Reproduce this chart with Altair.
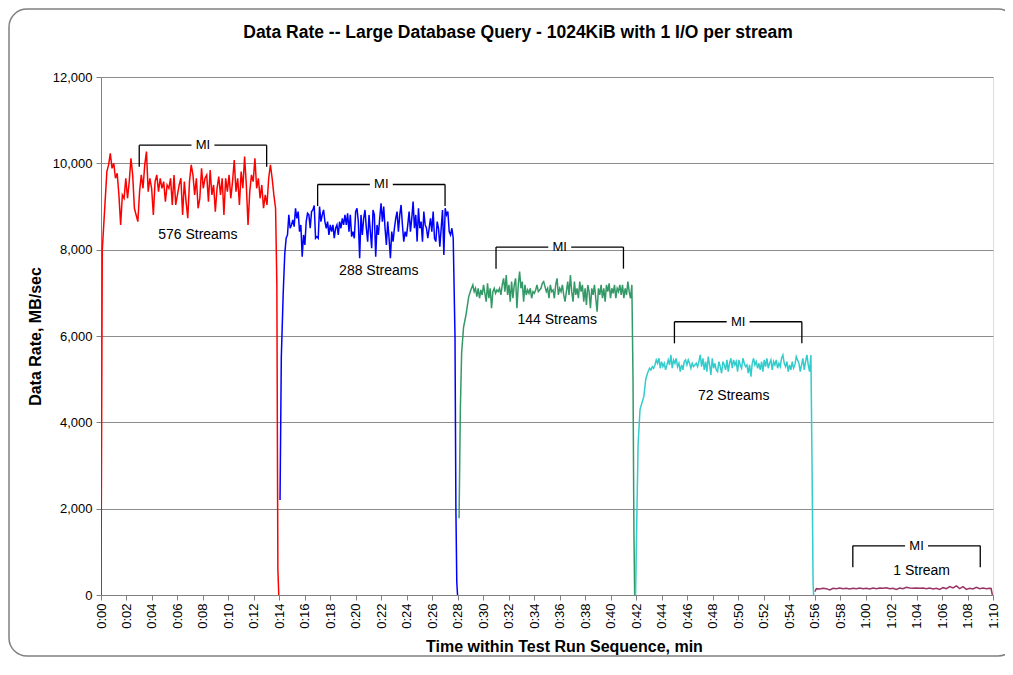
import altair as alt
import pandas as pd

FONT = "Liberation Sans"

chart_title = "Data Rate -- Large Database Query - 1024KiB with 1 I/O per stream"
series_names = ["576 Streams", "288 Streams", "144 Streams", "72 Streams", "1 Stream"]
series_colors = ["#FF0000", "#0000FF", "#339966", "#33CCCC", "#993366"]

# ---- 576 streams (red) ----
red_in_t = [0.0, 0.1, 0.2]
red_in_v = [0, 8000, 8500]
red_span = [0.46, 13.70]
red_vals = [9808, 9963, 10233, 9885, 10001, 9654, 9770, 9268, 8573, 9268, 9190, 9654, 9190, 9576,
            10117, 9731, 8959, 8804, 8650, 9345, 9731, 9422, 9963, 10272, 9345, 9654, 9422, 8804,
            9576, 9731, 9345, 9654, 9422, 9576, 9113, 9499, 9422, 9654, 9036, 9731, 9036, 9268,
            9499, 9654, 8804, 9576, 9113, 8727, 9576, 9963, 9731, 9268, 9654, 8959, 9190, 9885,
            9422, 9654, 9731, 9113, 9847, 9268, 9499, 8881, 9422, 9692, 9268, 9654, 8804, 9654,
            9345, 9731, 9190, 9576, 10078, 9345, 9654, 9036, 9808, 9422, 10156, 9499, 8573, 9345,
            9731, 9576, 10117, 9422, 9654, 9190, 9499, 8959, 9268, 9036, 9654, 9963, 9654, 9268, 8959]
red_out_t = [13.8, 13.88, 13.95]
red_out_v = [7200, 600, 0]

# ---- 288 streams (blue) ----
blue_in_t = [14.05, 14.15, 14.3, 14.42]
blue_in_v = [2200, 5500, 7000, 7900]
blue_span = [14.53, 27.64]
blue_vals = [8264, 8341, 8805, 8496, 8573, 8689, 8534, 8959, 8727, 8882, 8418, 8573, 7839, 8341,
             8110, 8650, 8843, 8805, 8496, 8882, 8920, 9021, 8264, 8303, 8264, 8998, 8650, 8805,
             8920, 8650, 8496, 8650, 8341, 8573, 8418, 8573, 8264, 8496, 8573, 8341, 8650, 8496,
             8727, 8573, 8805, 8573, 8843, 8418, 8805, 8303, 8418, 8264, 8882, 8959, 8650, 7801,
             8805, 8341, 8727, 8920, 8496, 8187, 8805, 8418, 8032, 8920, 8805, 7839, 8573, 8341,
             8727, 9075, 8650, 8998, 8496, 8110, 8650, 8264, 7801, 8418, 8187, 8496, 8727, 8882,
             8418, 8805, 9036, 8573, 8187, 8418, 8303, 8573, 8882, 8418, 8727, 9114, 8496, 8805,
             8187, 8959, 8496, 8650, 8187, 8882, 8573, 8496, 8264, 8496, 8727, 8418, 8882, 8264,
             8187, 8650, 8496, 8071, 8496, 8920, 7878, 8959, 8805, 8882, 8418, 8341, 8496, 8264]
blue_out_t = [27.78, 27.85, 27.92, 27.98]
blue_out_v = [6000, 2000, 300, 0]

# ---- 144 streams (green) ----
green_in_t = [28.1, 28.2, 28.3, 28.45, 28.65, 28.85, 29.0]
green_in_v = [1780, 4300, 5600, 6200, 6500, 6900, 7050]
green_span = [29.18, 41.66]
green_vals = [7183, 7028, 7105, 6912, 7105, 6874, 7067, 6951, 7183, 6990, 6796, 7221, 6874, 7105,
              6642, 7028, 7105, 6990, 7067, 7028, 7105, 6951, 7183, 7337, 7028, 7414, 6951, 7183,
              6796, 7260, 6874, 7183, 7337, 6642, 7183, 7492, 7105, 7260, 6796, 7183, 6951, 7067,
              6990, 7105, 6874, 7028, 6990, 7067, 7183, 7028, 7067, 7105, 7221, 7260, 7144, 7028,
              7105, 6874, 7183, 7028, 7067, 6874, 7183, 7337, 6951, 7105, 7028, 7183, 6951, 6796,
              7028, 7260, 6951, 7414, 7028, 6796, 7260, 6951, 7105, 6874, 7260, 7028, 7183, 6796,
              7105, 6719, 7183, 7028, 6642, 7105, 6951, 7183, 6874, 6565, 7105, 6951, 7183, 6874,
              7105, 6796, 7183, 7028, 7221, 6874, 7105, 6990, 7183, 6874, 7105, 7028, 7183, 6951,
              7183, 6874, 7105, 6951, 7260, 7028, 6874, 7183]
green_out_t = [41.75, 41.82, 41.88]
green_out_v = [5000, 1500, 0]

# ---- 72 streams (cyan) ----
cyan_in_t = [41.95, 42.05, 42.15, 42.3, 42.45, 42.6, 42.75, 42.9]
cyan_in_v = [0, 1800, 3500, 4300, 4450, 4600, 5000, 5150]
cyan_span = [43.05, 55.71]
cyan_vals = [5253, 5214, 5291, 5253, 5330, 5445, 5368, 5484, 5253, 5407, 5291, 5368, 5214, 5330,
             5445, 5330, 5561, 5253, 5445, 5368, 5484, 5291, 5368, 5175, 5330, 5214, 5407, 5445,
             5330, 5445, 5368, 5253, 5368, 5291, 5330, 5368, 5291, 5407, 5561, 5291, 5484, 5214,
             5407, 5175, 5523, 5330, 5098, 5484, 5253, 5368, 5214, 5175, 5407, 5291, 5137, 5407,
             5330, 5214, 5445, 5175, 5368, 5484, 5253, 5445, 5330, 5407, 5175, 5445, 5330, 5253,
             5484, 5368, 5291, 5330, 5137, 5330, 5059, 5368, 5484, 5330, 5407, 5253, 5368, 5214,
             5407, 5175, 5445, 5291, 5484, 5253, 5368, 5445, 5214, 5407, 5330, 5445, 5253, 5368,
             5291, 5484, 5561, 5368, 5291, 5407, 5175, 5330, 5214, 5407, 5253, 5330, 5523, 5445,
             5368, 5175, 5330, 5484, 5214, 5407, 5561, 5330, 5175, 5561]
cyan_out_t = [55.8, 55.88, 55.92]
cyan_out_v = [3000, 300, 0]

# ---- 1 stream (plum) ----
plum_in_t = [56.02]
plum_in_v = [80]
plum_span = [56.14, 69.74]
plum_vals = [147, 139, 155, 147, 116, 155, 147, 162, 147, 155, 139, 155, 147, 162, 147, 155, 139,
             162, 147, 162, 155, 170, 147, 155, 131, 162, 147, 178, 162, 155, 162, 155, 162, 147,
             162, 139, 155, 131, 170, 147, 193, 162, 209, 147, 193, 131, 155, 139, 178, 147, 162,
             147, 155]
plum_out_t = [69.85, 69.95]
plum_out_v = [150, 0]

# ---- annotations ----
mi_start = [3, 17, 31, 45, 59]
mi_end = [13, 27, 41, 55, 69]
mi_top = [10420, 9510, 8060, 6330, 1140]
mi_depth = 500
mi_gap = 0.9

label_t = [7.6, 21.8, 35.8, 49.65, 64.4]
label_v = [8340, 7500, 6360, 4600, 550]

tick_values = list(range(0, 71, 2))
y_ticks = list(range(0, 12001, 2000))

# ---------- build tables ----------
segments = [
    (red_in_t, red_in_v, red_span, red_vals, red_out_t, red_out_v),
    (blue_in_t, blue_in_v, blue_span, blue_vals, blue_out_t, blue_out_v),
    (green_in_t, green_in_v, green_span, green_vals, green_out_t, green_out_v),
    (cyan_in_t, cyan_in_v, cyan_span, cyan_vals, cyan_out_t, cyan_out_v),
    (plum_in_t, plum_in_v, plum_span, plum_vals, plum_out_t, plum_out_v),
]
rows = []
for name, (it, iv, span, vals, ot, ov) in zip(series_names, segments):
    n = len(vals)
    ts = list(it) + [span[0] + (span[1] - span[0]) * i / (n - 1) for i in range(n)] + list(ot)
    vs = list(iv) + list(vals) + list(ov)
    for k, (t, v) in enumerate(zip(ts, vs)):
        rows.append({"t": t, "v": v, "series": name, "order": k})
lines_df = pd.DataFrame(rows)

rule_rows = []
text_rows = []
for s, e, top in zip(mi_start, mi_end, mi_top):
    mid = (s + e) / 2
    bot = top - mi_depth
    rule_rows += [
        {"x": s, "x2": s, "y": top, "y2": bot},
        {"x": e, "x2": e, "y": top, "y2": bot},
        {"x": s, "x2": mid - mi_gap, "y": top, "y2": top},
        {"x": mid + mi_gap, "x2": e, "y": top, "y2": top},
    ]
    text_rows.append({"x": mid, "y": top, "text": "MI"})
rules_df = pd.DataFrame(rule_rows)
mi_df = pd.DataFrame(text_rows)
labels_df = pd.DataFrame({"x": label_t, "y": label_v, "text": series_names})

xscale = alt.Scale(domain=[0, 70], nice=False, zero=False)
yscale = alt.Scale(domain=[0, 12000], nice=False)

label_expr = ("floor(datum.value/60) + ':' + (datum.value%60 < 10 ? '0' : '') + (datum.value%60)")

x_axis = alt.Axis(
    values=tick_values, labelExpr=label_expr, labelAngle=270, labelFontSize=13,
    labelFont=FONT, labelColor="#000000", labelPadding=3, tickSize=5, tickColor="#808080",
    domainColor="#808080", grid=False, title="Time within Test Run Sequence, min",
    titleFont=FONT, titleFontSize=16, titleFontWeight="bold", titleColor="#000000",
    titlePadding=10, titleX=463, labelOverlap=False, labelFlush=False,
)
y_axis = alt.Axis(
    values=y_ticks, format=",d", labelFontSize=13, labelFont=FONT, labelColor="#000000",
    labelPadding=4, tickSize=5, tickColor="#808080", domainColor="#808080",
    grid=True, gridColor="#8c8c8c", gridWidth=1, title="Data Rate, MB/sec",
    titleFont=FONT, titleFontSize=16, titleFontWeight="bold", titleColor="#000000",
    titlePadding=9, labelOverlap=False,
)


def xenc(field):
    return alt.X(field, scale=xscale, axis=x_axis)


def yenc(field):
    return alt.Y(field, scale=yscale, axis=y_axis)


frame = alt.Chart(pd.DataFrame({"a": [0]})).mark_rect(
    fillOpacity=0, stroke="#808080", strokeWidth=1.5, cornerRadius=18
).encode(x=alt.value(-92), x2=alt.value(915), y=alt.value(-68), y2=alt.value(579))

title_mark = alt.Chart(pd.DataFrame({"text": [chart_title]})).mark_text(
    font=FONT, fontSize=17.5, fontWeight="bold", color="#000000", baseline="middle", align="center"
).encode(x=alt.value(417), y=alt.value(-44), text="text:N")

lines = alt.Chart(lines_df).mark_line(strokeWidth=1.5, clip=True).encode(
    x=xenc("t:Q"),
    y=yenc("v:Q"),
    color=alt.Color("series:N", scale=alt.Scale(domain=series_names, range=series_colors), legend=None),
    order="order:Q",
)

rules = alt.Chart(rules_df).mark_rule(color="#000000", strokeWidth=1.3).encode(
    x=xenc("x:Q"), x2="x2:Q", y=yenc("y:Q"), y2="y2:Q"
)
mi_text = alt.Chart(mi_df).mark_text(font=FONT, fontSize=13, color="#000000", baseline="middle").encode(
    x=xenc("x:Q"), y=yenc("y:Q"), text="text:N"
)
labels = alt.Chart(labels_df).mark_text(font=FONT, fontSize=14, color="#000000", baseline="middle").encode(
    x=xenc("x:Q"), y=yenc("y:Q"), text="text:N"
)

chart = alt.layer(frame, title_mark, lines, rules, mi_text, labels).properties(
    width=892, height=518,
    autosize=alt.AutoSizeParams(type="none"),
    padding={"left": 93, "top": 69, "right": 12, "bottom": 62},
).configure_view(stroke="#808080", strokeWidth=1).configure_axisX(labelOverlap=False).configure(background="#ffffff")

chart.save("out.html", embed_options={"renderer": "svg", "actions": False})
